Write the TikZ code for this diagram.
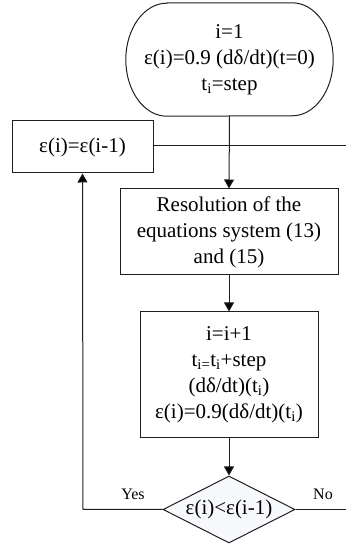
\documentclass[tikz,border=0pt]{standalone}
\usepackage{fontspec}
\setmainfont{Liberation Serif}
\usetikzlibrary{arrows.meta,shapes.geometric}
\definecolor{linec}{RGB}{30,30,30}
\definecolor{dfill}{RGB}{248,249,253}
\begin{document}
\begin{tikzpicture}[x=1pt,y=1pt,
  every node/.style={font=\fontsize{21}{26}\selectfont, align=center, text=black},
  line/.style={draw=linec, line width=1pt},
  arr/.style={line, -{Triangle[length=9pt,width=10pt,fill=black]}},
  procbox/.style={line, rectangle, inner sep=0pt},
  decision/.style={line, diamond, aspect=2, inner sep=0pt, fill=dfill, minimum width=132pt, minimum height=67pt},
  small/.style={font=\fontsize{16}{19}\selectfont}
]
\useasboundingbox (0,0) rectangle (346,544);
% start node (stadium with elliptical ends)
\node[inner sep=0pt, minimum width=207pt, minimum height=113pt] (start) at (229.5,484.5)
  {\fontsize{21}{27}\selectfont i=1\\ ε(i)=0.9 (dδ/dt)(t=0)\\ t\textsubscript{i}=step};
\draw[line] ([xshift=41pt]start.north west) -- ([xshift=-41pt]start.north east)
  arc[start angle=90, end angle=-90, x radius=41pt, y radius=56.5pt]
  -- ([xshift=41pt]start.south west)
  arc[start angle=270, end angle=90, x radius=41pt, y radius=56.5pt] -- cycle;
% boxes
\node[procbox, minimum width=141pt, minimum height=52pt] (upd) at (82.5,397) {ε(i)=ε(i-1)};
\node[procbox, minimum width=218pt, minimum height=86pt] (res) at (229,312)
  {Resolution of the\\ equations system (13)\\ and (15)};
\node[procbox, minimum width=178pt, minimum height=126pt] (inc) at (229,169)
  {i=i+1\\ t\textsubscript{i=}t\textsubscript{i}+step\\ (dδ/dt)(t\textsubscript{i})\\ ε(i)=0.9(dδ/dt)(t\textsubscript{i})};
\node[decision] (dec) at (229,34.5) {ε(i)<ε(i-1)};
% free ends
\coordinate (rtop) at (346,398);
\coordinate (rno) at (346,34.5);
\coordinate (lcorner) at (83,34.5);
% connectors
\draw[line] (upd.east |- rtop) -- (rtop);
\draw[arr] (start.south) -- (res.north);
\draw[arr] (res.south) -- (inc.north);
\draw[arr] (inc.south) -- (dec.north);
\draw[arr] (dec.west) -- (lcorner) -- (upd.south);
\draw[line] (dec.east) -- (rno);
% labels
\node[small] (yes) at (133,50) {Yes};
\node[small] (no) at (323,50) {No};
\end{tikzpicture}
\end{document}
